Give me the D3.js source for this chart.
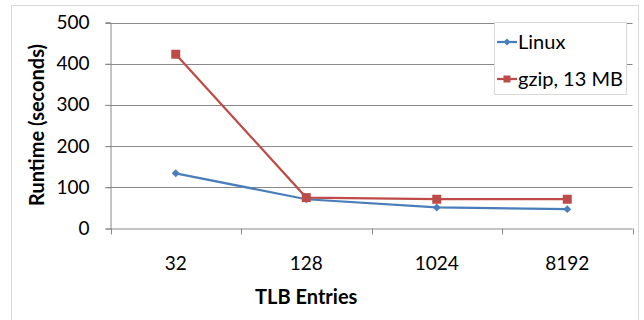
<!DOCTYPE html>
<html>
<head>
<meta charset="utf-8">
<script src="https://cdn.jsdelivr.net/npm/d3@7"></script>
<style>
  body { margin: 0; background: #fff; }
  text { font-family: Lato, "Open Sans", sans-serif; fill: #000; }
</style>
</head>
<body>
<div id="chart"></div>
<script>
// data
var categories = ['32', '128', '1024', '8192'];
var linux = [134, 71, 51, 47];
var gzip = [423, 75, 71, 71];
var series_names = ['Linux', 'gzip, 13 MB'];
var y_ticks = [0, 100, 200, 300, 400, 500];

// chart settings
var chart_width = 644;
var chart_height = 320;
var plot = { left: 110.5, right: 632.5, top: 22.5, bottom: 228.5 };
var colors = ['#4a7ebb', '#be4b48'];

var svg = d3.select('#chart')
	.append('svg')
	.attr('width', chart_width)
	.attr('height', chart_height);

// outer border
svg.append('rect')
	.attr('x', 11.5).attr('y', 5.5)
	.attr('width', 627).attr('height', 330)
	.attr('fill', 'none')
	.attr('stroke', '#d9d9d9');

// scales
var x_scale = d3.scaleBand()
	.domain(categories)
	.range([plot.left, plot.right]);

var y_scale = d3.scaleLinear()
	.domain([0, 500])
	.range([plot.bottom, plot.top]);

// gridlines
svg.append('g')
	.selectAll('line')
	.data(y_ticks.slice(1))
	.enter()
	.append('line')
	.attr('x1', plot.left - 5)
	.attr('x2', plot.right)
	.attr('y1', (d) => Math.round(y_scale(d)) + 0.5)
	.attr('y2', (d) => Math.round(y_scale(d)) + 0.5)
	.attr('stroke', '#888');

// y axis
var y_axis = svg.append('g')
	.attr('transform', 'translate(' + plot.left + ',0)')
	.call(d3.axisLeft(y_scale).tickValues(y_ticks).tickSize(5).tickPadding(16));
y_axis.selectAll('line, path').attr('stroke', '#888');
y_axis.selectAll('text').style('font-size', '19px');

// x axis
var x_axis = svg.append('g')
	.attr('transform', 'translate(0,' + plot.bottom + ')')
	.call(d3.axisBottom(x_scale).tickSize(0).tickPadding(28));
x_axis.select('path').attr('stroke', '#888').attr('d', 'M' + plot.left + ',0.5H' + plot.right);
x_axis.selectAll('text').style('font-size', '19px');

// x ticks between categories
svg.append('g')
	.selectAll('line')
	.data(d3.range(categories.length + 1))
	.enter()
	.append('line')
	.attr('x1', (i) => Math.round(plot.left + i * x_scale.bandwidth()) + 0.5)
	.attr('x2', (i) => Math.round(plot.left + i * x_scale.bandwidth()) + 0.5)
	.attr('y1', plot.bottom)
	.attr('y2', plot.bottom + 6)
	.attr('stroke', '#888');

// axis titles
svg.append('text')
	.attr('x', x_scale('1024') - x_scale.bandwidth() / 2)
	.attr('y', 304)
	.attr('text-anchor', 'middle')
	.style('font-size', '20px')
	.style('font-weight', 'bold')
	.text('TLB Entries');

svg.append('text')
	.attr('transform', 'translate(44,' + 125 + ') rotate(-90)')
	.attr('text-anchor', 'middle')
	.style('font-size', '20px')
	.style('font-weight', 'bold')
	.text('Runtime (seconds)');

// lines
var cx = (d, i) => x_scale(categories[i]) + x_scale.bandwidth() / 2;
var line = d3.line()
	.x(cx)
	.y((d) => y_scale(d));

var all_series = [linux, gzip];
all_series.forEach(function (values, s) {
	svg.append('path')
		.datum(values)
		.attr('d', line)
		.attr('fill', 'none')
		.attr('stroke', colors[s])
		.attr('stroke-width', 2.25);
});

// markers
svg.append('g')
	.selectAll('path')
	.data(linux)
	.enter()
	.append('path')
	.attr('d', d3.symbol().type(d3.symbolDiamond2).size(40))
	.attr('transform', (d, i) => 'translate(' + cx(d, i) + ',' + y_scale(d) + ')')
	.attr('fill', colors[0]);

svg.append('g')
	.selectAll('rect')
	.data(gzip)
	.enter()
	.append('rect')
	.attr('x', (d, i) => cx(d, i) - 4.5)
	.attr('y', (d) => y_scale(d) - 4.5)
	.attr('width', 9)
	.attr('height', 9)
	.attr('fill', colors[1]);

// legend
var legend = svg.append('g');
legend.append('rect')
	.attr('x', 494.5).attr('y', 22.5)
	.attr('width', 132).attr('height', 72)
	.attr('fill', '#fff')
	.attr('stroke', '#d9d9d9');

var legend_y = [42, 79];
series_names.forEach(function (name, s) {
	var g = legend.append('g').attr('transform', 'translate(0,' + legend_y[s] + ')');
	g.append('line')
		.attr('x1', 497).attr('x2', 517)
		.attr('stroke', colors[s]).attr('stroke-width', 2.25);
	if (s === 0) {
		g.append('path')
			.attr('d', d3.symbol().type(d3.symbolDiamond2).size(30))
			.attr('transform', 'translate(507,0)')
			.attr('fill', colors[s]);
	} else {
		g.append('rect')
			.attr('x', 503.5).attr('y', -3.5).attr('width', 7).attr('height', 7)
			.attr('fill', colors[s]);
	}
	g.append('text')
		.attr('x', 518)
		.attr('dy', '0.35em')
		.style('font-size', '20px')
		.text(name);
});
</script>
</body>
</html>
